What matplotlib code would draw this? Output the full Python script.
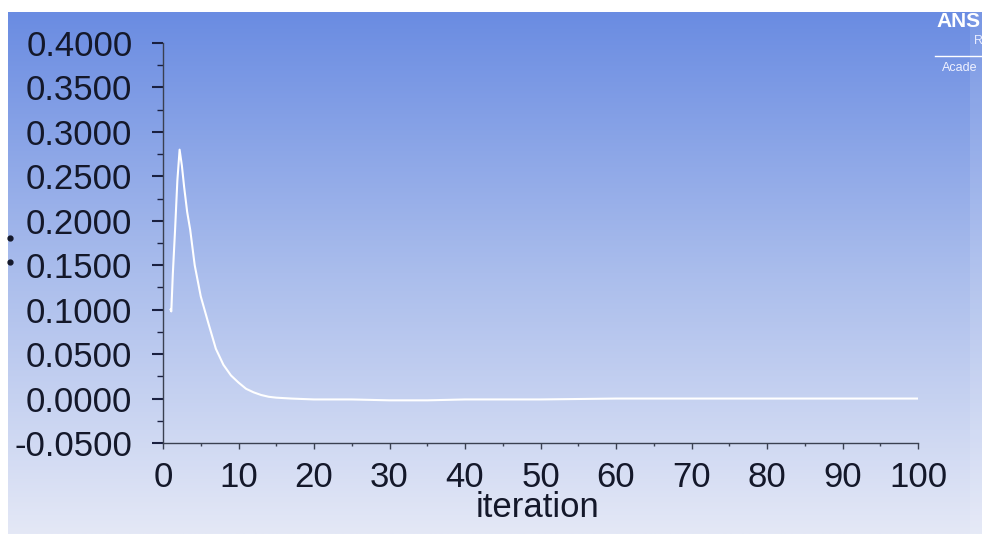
import numpy as np
import matplotlib
matplotlib.use("Agg")
import matplotlib.pyplot as plt
from matplotlib.ticker import MultipleLocator, FixedLocator

# ---- data ----
iterations = [1.0, 1.1, 1.3, 1.6, 1.9, 2.2, 2.5, 2.8, 3.2, 3.6, 4.2, 5.0, 6.0,
              7.0, 8.0, 9.0, 10.0, 11.0, 12.0, 13.0, 14.0, 15.0, 17.0, 20.0,
              25.0, 30.0, 35.0, 40.0, 45.0, 50.0, 60.0, 70.0, 80.0, 90.0, 100.0]
residual = [0.100, 0.098, 0.140, 0.190, 0.245, 0.280, 0.262, 0.238, 0.210,
            0.190, 0.150, 0.115, 0.085, 0.056, 0.038, 0.026, 0.018, 0.011,
            0.007, 0.004, 0.002, 0.001, 0.000, -0.001, -0.001, -0.002,
            -0.002, -0.001, -0.001, -0.001, 0.0, 0.0, 0.0, 0.0, 0.0]
x_ticks = [0, 10, 20, 30, 40, 50, 60, 70, 80, 90, 100]
y_ticks = [-0.05, 0.0, 0.05, 0.10, 0.15, 0.20, 0.25, 0.30, 0.35, 0.40]
x_label = "iteration"

W, H, DPI = 982, 534, 100
fig = plt.figure(figsize=(W / DPI, H / DPI), dpi=DPI)
fig.patch.set_facecolor("white")

# gradient background (below white top/left border)
bg = fig.add_axes([8 / W, 0, 1 - 8 / W, 1 - 12 / H], zorder=0)
top = np.array([106, 140, 226]) / 255
mid = np.array([170, 189, 236]) / 255
bot = np.array([228, 232, 246]) / 255
t = np.linspace(0, 1, 256)[:, None]
grad = np.where(t < 0.5, top + (mid - top) * (t / 0.5), mid + (bot - mid) * ((t - 0.5) / 0.5))
bg.imshow(grad[:, None, :].repeat(2, axis=1), aspect="auto", extent=[0, 1, 0, 1])
bg.axis("off")
# faint right strip
fig.patches.append(plt.Rectangle((970 / W, 0), 12 / W, 1 - 12 / H, transform=fig.transFigure,
                                 facecolor="white", alpha=0.10, edgecolor="none", zorder=0.5))

ax = fig.add_axes([163 / W, 1 - 443 / H, (918 - 163) / W, (443 - 43) / H], zorder=2)
ax.patch.set_alpha(0)
ax.plot(iterations, residual, color="white", lw=1.5, solid_joinstyle="round")
ax.set_xlim(0, 100)
ax.set_ylim(-0.05, 0.40)
for s in ["top", "right"]:
    ax.spines[s].set_visible(False)
for s in ["left", "bottom"]:
    ax.spines[s].set_color("#3a4050")
    ax.spines[s].set_linewidth(1.0)

font = ["Liberation Sans", "DejaVu Sans"]
ax.xaxis.set_major_locator(FixedLocator(x_ticks))
ax.yaxis.set_major_locator(FixedLocator(y_ticks))
ax.xaxis.set_minor_locator(MultipleLocator(5))
ax.yaxis.set_minor_locator(MultipleLocator(0.025))
ax.set_yticklabels([f"{v:.4f}" for v in y_ticks])
ax.set_xticklabels([str(v) for v in x_ticks])
ax.tick_params(axis="y", which="major", length=8, width=1.5, color="#1a2040", pad=14)
ax.tick_params(axis="y", which="minor", length=4, width=1.0, color="#1a2040")
ax.tick_params(axis="x", which="major", length=4, width=1.0, color="#3a4050", pad=9)
ax.tick_params(axis="x", which="minor", length=2, width=1.0, color="#3a4050")
for lab in ax.get_yticklabels():
    lab.set_family(font)
    lab.set_fontsize(25)
    lab.set_color("#14182a")
for lab in ax.get_xticklabels():
    lab.set_family(font)
    lab.set_fontsize(25)
    lab.set_color("#14182a")

fig.text(538 / W, 1 - 517 / H, x_label, family=font, fontsize=25, color="#14182a",
         ha="center", va="baseline")

# small marks at left edge (fragment of a clipped label)
fig.add_artist(plt.Line2D([10 / W, 10 / W], [1 - 238 / H, 1 - 262 / H], ls="none",
                          marker="o", ms=3.5, color="#14182a", transform=fig.transFigure))

# ANSYS logo fragment at top-right
fig.text(936 / W, 1 - 27 / H, "ANS", color="white", fontsize=15, fontweight="bold",
         family=font, ha="left", va="baseline")
fig.text(974 / W, 1 - 44 / H, "R", color="#e8ecff", fontsize=9, family=font,
         ha="left", va="baseline")
fig.add_artist(plt.Line2D([935 / W, 1], [1 - 56 / H, 1 - 56 / H], color="white", lw=1.0,
                          transform=fig.transFigure))
fig.text(942 / W, 1 - 71 / H, "Acade", color="#f0f2ff", fontsize=9, family=font,
         ha="left", va="baseline")

# white top border
fig.patches.append(plt.Rectangle((0, 1 - 12 / H), 1, 12 / H, transform=fig.transFigure,
                                 facecolor="white", edgecolor="none", zorder=10))

fig.savefig("out.png", dpi=DPI, facecolor="white")
